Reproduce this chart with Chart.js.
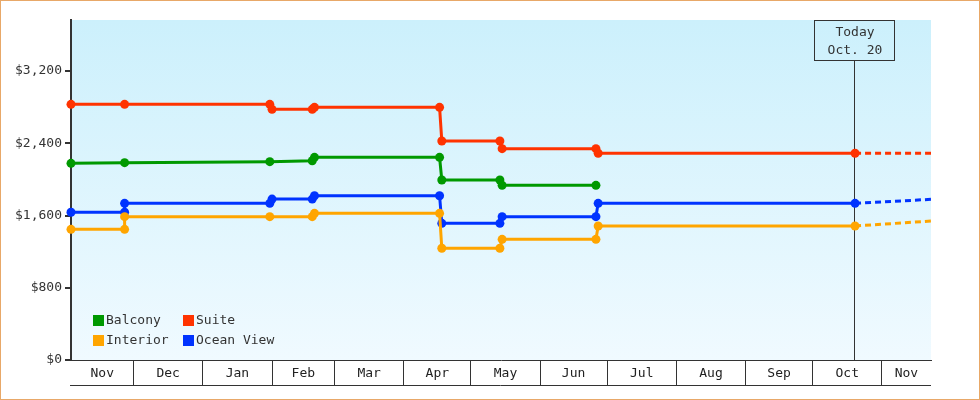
<!DOCTYPE html>
<html>
<head>
<meta charset="utf-8">
<script src="https://cdn.jsdelivr.net/npm/chart.js@4.4.0/dist/chart.umd.min.js"></script>
<style>
html, body { margin: 0; padding: 0; background: #fff; }
canvas { display: block; }
</style>
</head>
<body>
<canvas id="chart" width="980" height="400"></canvas>
<script>
// axis range / labels
var START_DATE = '2022-11-03';
var END_DATE = '2023-11-23';
var TODAY = '2023-10-20';
var TODAY_LINES = ['Today', 'Oct. 20'];
var MONTH_LABELS = ['Nov', 'Dec', 'Jan', 'Feb', 'Mar', 'Apr', 'May', 'Jun', 'Jul', 'Aug', 'Sep', 'Oct', 'Nov'];
var MONTH_STARTS = ['2022-11-03', '2022-12-01', '2023-01-01', '2023-02-01', '2023-03-01', '2023-04-01',
  '2023-05-01', '2023-06-01', '2023-07-01', '2023-08-01', '2023-09-01', '2023-10-01', '2023-11-01'];
var Y_TICKS = [0, 800, 1600, 2400, 3200];
var Y_MAX = 3765;

// series
var BALCONY_DATES = ['2022-11-03', '2022-11-27', '2023-01-31', '2023-02-19', '2023-02-20', '2023-04-17',
  '2023-04-18', '2023-05-14', '2023-05-15', '2023-06-26'];
var BALCONY_PRICES = [2178, 2185, 2196, 2207, 2244, 2244, 1993, 1993, 1934, 1934];

var SUITE_DATES = ['2022-11-03', '2022-11-27', '2023-01-31', '2023-02-01', '2023-02-19', '2023-02-20',
  '2023-04-17', '2023-04-18', '2023-05-14', '2023-05-15', '2023-06-26', '2023-06-27', '2023-10-20', '2023-11-23'];
var SUITE_PRICES = [2831, 2831, 2831, 2776, 2776, 2798, 2798, 2425, 2425, 2340, 2340, 2289, 2289, 2289];

var INTERIOR_DATES = ['2022-11-03', '2022-11-27', '2022-11-27', '2023-01-31', '2023-02-19', '2023-02-20',
  '2023-04-17', '2023-04-18', '2023-05-14', '2023-05-15', '2023-06-26', '2023-06-27', '2023-10-20', '2023-11-23'];
var INTERIOR_PRICES = [1447, 1447, 1587, 1587, 1587, 1624, 1624, 1237, 1237, 1336, 1336, 1484, 1484, 1539];

var OCEAN_DATES = ['2022-11-03', '2022-11-27', '2022-11-27', '2023-01-31', '2023-02-01', '2023-02-19',
  '2023-02-20', '2023-04-17', '2023-04-18', '2023-05-14', '2023-05-15', '2023-06-26', '2023-06-27',
  '2023-10-20', '2023-11-23'];
var OCEAN_PRICES = [1636, 1636, 1735, 1735, 1782, 1782, 1819, 1819, 1513, 1513, 1587, 1587, 1735, 1735, 1779];

var FONT = 'DejaVu Sans Mono';

function utc(s) {
  var p = s.split('-').map(Number);
  return Date.UTC(p[0], p[1] - 1, p[2]);
}
function day(s) {
  return (utc(s) - utc(START_DATE)) / 86400000;
}
var TODAY_X = day(TODAY);

function series(label, dates, prices, color) {
  return {
    label: label,
    data: dates.map(function(d, i) { return { x: day(d), y: prices[i] }; }),
    borderColor: color,
    backgroundColor: color,
    borderWidth: 3,
    tension: 0,
    clip: false,
    pointRadius: function(c) { return c.raw && c.raw.x > TODAY_X ? 0 : 4.5; },
    pointBorderWidth: 0,
    segment: {
      borderDash: function(c) { return c.p0.parsed.x >= TODAY_X ? [6, 4] : undefined; }
    }
  };
}

var datasets = [
  series('Balcony', BALCONY_DATES, BALCONY_PRICES, '#009900'),
  series('Suite', SUITE_DATES, SUITE_PRICES, '#ff3300'),
  series('Interior', INTERIOR_DATES, INTERIOR_PRICES, '#ffa500'),
  series('Ocean View', OCEAN_DATES, OCEAN_PRICES, '#0033ff')
];

var decor = {
  id: 'decor',
  beforeDraw: function(chart) {
    var ctx = chart.ctx, a = chart.chartArea;
    ctx.save();
    ctx.fillStyle = '#fff';
    ctx.fillRect(0, 0, chart.width, chart.height);
    var g = ctx.createLinearGradient(0, a.top, 0, a.bottom);
    g.addColorStop(0, '#ccf0fc');
    g.addColorStop(1, '#f0faff');
    ctx.fillStyle = g;
    ctx.fillRect(a.left, a.top, a.right - a.left, a.bottom - a.top);
    ctx.strokeStyle = '#e8a868';
    ctx.lineWidth = 1;
    ctx.strokeRect(0.5, 0.5, chart.width - 1, chart.height - 1);
    ctx.restore();
  },
  beforeDatasetsDraw: function(chart) {
    var ctx = chart.ctx, a = chart.chartArea;
    var x = Math.round(chart.scales.x.getPixelForValue(TODAY_X)) - 0.5;
    ctx.save();
    ctx.strokeStyle = '#333';
    ctx.lineWidth = 1;
    ctx.beginPath();
    ctx.moveTo(x, a.top + 40);
    ctx.lineTo(x, a.bottom);
    ctx.stroke();
    ctx.strokeRect(x - 40, a.top + 0.5, 80, 40);
    ctx.fillStyle = '#333';
    ctx.font = '13px "' + FONT + '"';
    ctx.textAlign = 'center';
    ctx.textBaseline = 'middle';
    ctx.fillText(TODAY_LINES[0], x + 0.5, a.top + 12.5);
    ctx.fillText(TODAY_LINES[1], x + 0.5, a.top + 30.5);
    ctx.restore();
  },
  afterDraw: function(chart) {
    var ctx = chart.ctx, a = chart.chartArea, xs = chart.scales.x;
    ctx.save();
    // month labels centred in their bands
    ctx.fillStyle = '#222';
    ctx.font = '13px "' + FONT + '"';
    ctx.textAlign = 'center';
    ctx.textBaseline = 'middle';
    MONTH_LABELS.forEach(function(m, i) {
      var s = day(MONTH_STARTS[i]);
      var e = i + 1 < MONTH_STARTS.length ? day(MONTH_STARTS[i + 1]) : day(END_DATE);
      ctx.fillText(m, (xs.getPixelForValue(s) + xs.getPixelForValue(e)) / 2, a.bottom + 13.5);
    });
    ctx.strokeStyle = '#333';
    ctx.lineWidth = 1;
    ctx.beginPath();
    ctx.moveTo(a.left - 1, a.bottom + 25.5);
    ctx.lineTo(a.right, a.bottom + 25.5);
    ctx.stroke();
    // legend
    ctx.textAlign = 'left';
    chart.data.datasets.forEach(function(ds, i) {
      var lx = a.left + 22 + (i % 2) * 90;
      var ly = a.bottom - 45 + Math.floor(i / 2) * 20;
      ctx.fillStyle = ds.borderColor;
      ctx.fillRect(lx, ly, 11, 11);
      ctx.fillStyle = '#333';
      ctx.fillText(ds.label, lx + 13, ly + 6);
    });
    ctx.restore();
  }
};

new Chart(document.getElementById('chart'), {
  type: 'line',
  data: { datasets: datasets },
  options: {
    responsive: false,
    animation: false,
    events: [],
    layout: { padding: { top: 20, right: 49, bottom: 0, left: 0 } },
    plugins: { legend: { display: false }, tooltip: { enabled: false } },
    scales: {
      x: {
        type: 'linear',
        min: 0,
        max: day(END_DATE),
        afterBuildTicks: function(scale) {
          scale.ticks = MONTH_STARTS.slice(1).map(function(d) { return { value: day(d) }; });
        },
        afterFit: function(scale) { scale.height = 40; },
        ticks: { display: false, autoSkip: false },
        grid: { drawOnChartArea: false, color: '#333', lineWidth: 1, tickLength: 25 },
        border: { color: '#333', width: 1 }
      },
      y: {
        min: 0,
        max: Y_MAX,
        afterBuildTicks: function(scale) {
          scale.ticks = Y_TICKS.map(function(v) { return { value: v }; });
        },
        afterFit: function(scale) { scale.width = 71; },
        ticks: {
          color: '#333',
          padding: 3,
          font: { family: FONT, size: 13 },
          callback: function(v) { return '$' + Number(v).toLocaleString('en-US'); }
        },
        grid: { drawOnChartArea: false, color: '#333', lineWidth: 2, tickLength: 6 },
        border: { color: '#333', width: 2 }
      }
    }
  },
  plugins: [decor]
});
</script>
</body>
</html>
